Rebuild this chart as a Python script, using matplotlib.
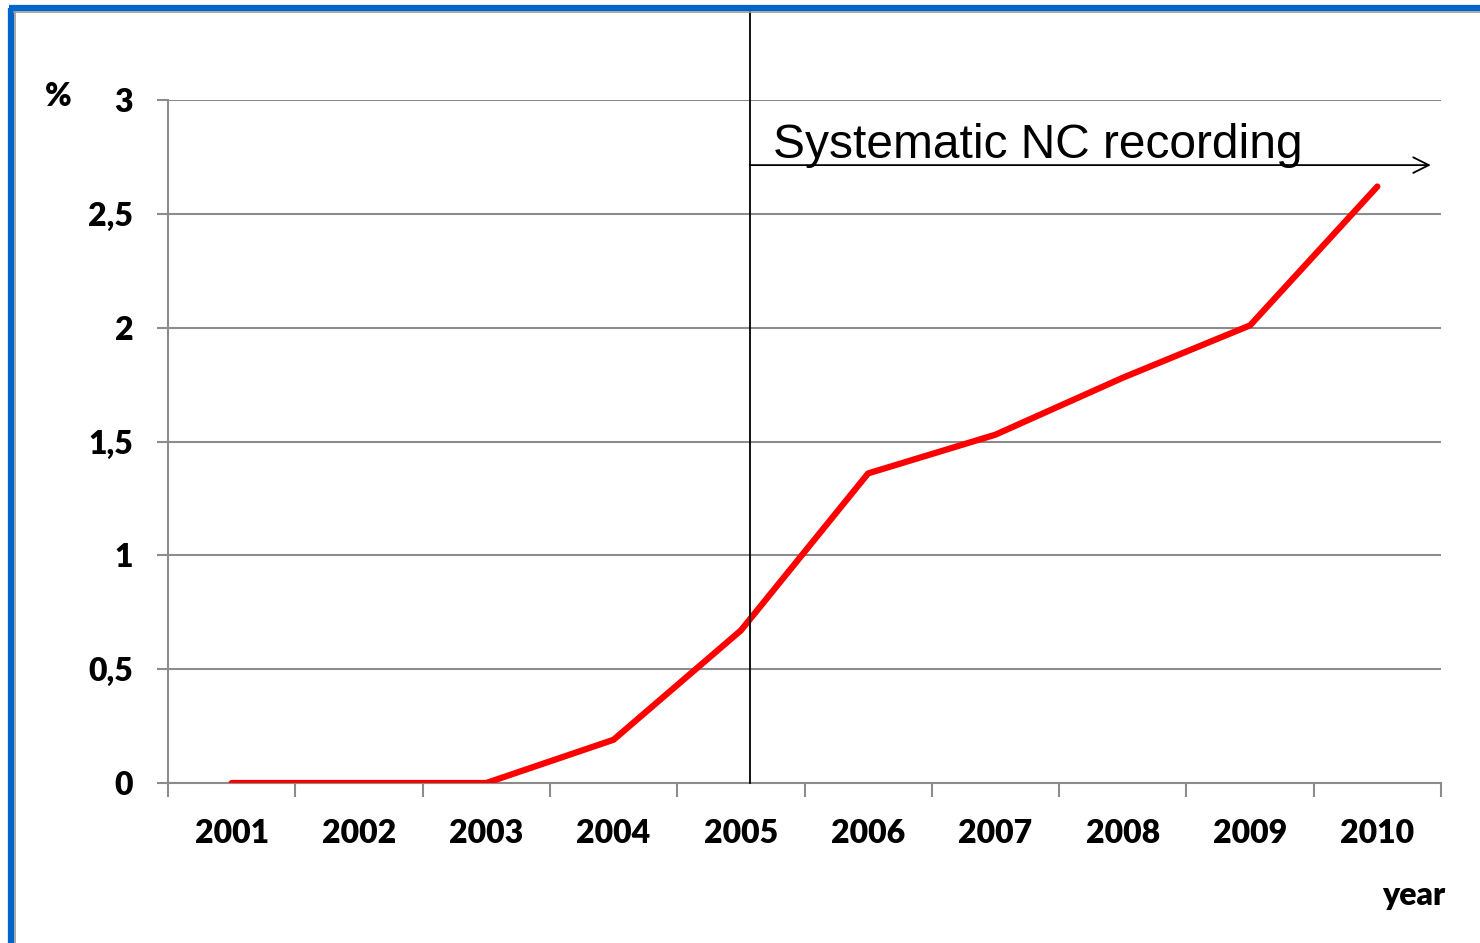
import numpy as np
import matplotlib.pyplot as plt
from matplotlib.lines import Line2D

# share of NC records per year (%)
years = ['2001', '2002', '2003', '2004', '2005', '2006', '2007', '2008', '2009', '2010']
share = [0, 0, 0, 0.19, 0.67, 1.36, 1.53, 1.78, 2.01, 2.62]
y_ticks = [0, 0.5, 1, 1.5, 2, 2.5, 3]
y_tick_labels = ['0', '0,5', '1', '1,5', '2', '2,5', '3']

# start of systematic recording, in category units (just after 2005)
nc_start = 4.07
nc_arrow_end = 9.42
nc_arrow_y = 2.714

grid_col = '#8c8c8c'
lab_font = {'family': 'Lato', 'weight': 'heavy', 'size': 23}

fig = plt.figure(figsize=(14.8, 9.43), dpi=100)
ax = fig.add_axes([168/1480, 1-783/943, (1441-168)/1480, (783-100)/943])

x = np.arange(len(years))
ax.plot(x, share, color='#ff0000', lw=4.5, solid_capstyle='round', zorder=4)

ax.set_xlim(-0.5, len(years) - 0.5)
ax.set_ylim(0, 3)

# category boundaries get the tick marks, labels sit in between
ax.set_xticks(np.arange(-0.5, len(years), 1.0))
ax.set_xticklabels([])
ax.set_xticks(x, minor=True)
ax.set_xticklabels(years, minor=True, fontdict=lab_font)
ax.tick_params(axis='x', which='major', length=10, width=1.5, color=grid_col, direction='out')
ax.tick_params(axis='x', which='minor', length=0, pad=26)

ax.set_yticks(y_ticks)
ax.set_yticklabels(y_tick_labels, fontdict=lab_font)
ax.tick_params(axis='y', length=8, width=1.5, color=grid_col, pad=17)

ax.grid(axis='y', color=grid_col, lw=1.5)
ax.set_axisbelow(True)
for s in ['top', 'right']:
    ax.spines[s].set_visible(False)
for s in ['left', 'bottom']:
    ax.spines[s].set_color(grid_col)
    ax.spines[s].set_linewidth(1.5)

# vertical marker and arrow
ax.plot([nc_start, nc_start], [0, 3.39], color='black', lw=1.3, clip_on=False, zorder=5)
ax.annotate('', xy=(nc_arrow_end, nc_arrow_y), xytext=(nc_start, nc_arrow_y),
            arrowprops=dict(arrowstyle='->', color='black', lw=1.3,
                            mutation_scale=28, shrinkA=0, shrinkB=0),
            annotation_clip=False)
ax.text(4.25, 2.745, 'Systematic NC recording', family='Liberation Sans',
        fontsize=34.5, va='baseline', ha='left')

fig.text(58/1480, 1-97/943, '%', ha='center', va='center', **lab_font)
fig.text(1445/1480, 1-895/943, 'year', ha='right', va='center', **lab_font)

# blue frame along top and left
fig.add_artist(Line2D([11/1480, 11/1480], [0, 1-8/943], transform=fig.transFigure,
                      color='#0066cc', lw=4.5, solid_capstyle='butt'))
fig.add_artist(Line2D([9/1480, 1], [1-8/943, 1-8/943], transform=fig.transFigure,
                      color='#0066cc', lw=4.5, solid_capstyle='butt'))
fig.add_artist(Line2D([14.5/1480, 14.5/1480], [0, 1-12/943], transform=fig.transFigure,
                      color='#999999', lw=1.2))
fig.add_artist(Line2D([14/1480, 1], [1-12/943, 1-12/943], transform=fig.transFigure,
                      color='#999999', lw=1.2))

fig.savefig('out.png', dpi=100)
